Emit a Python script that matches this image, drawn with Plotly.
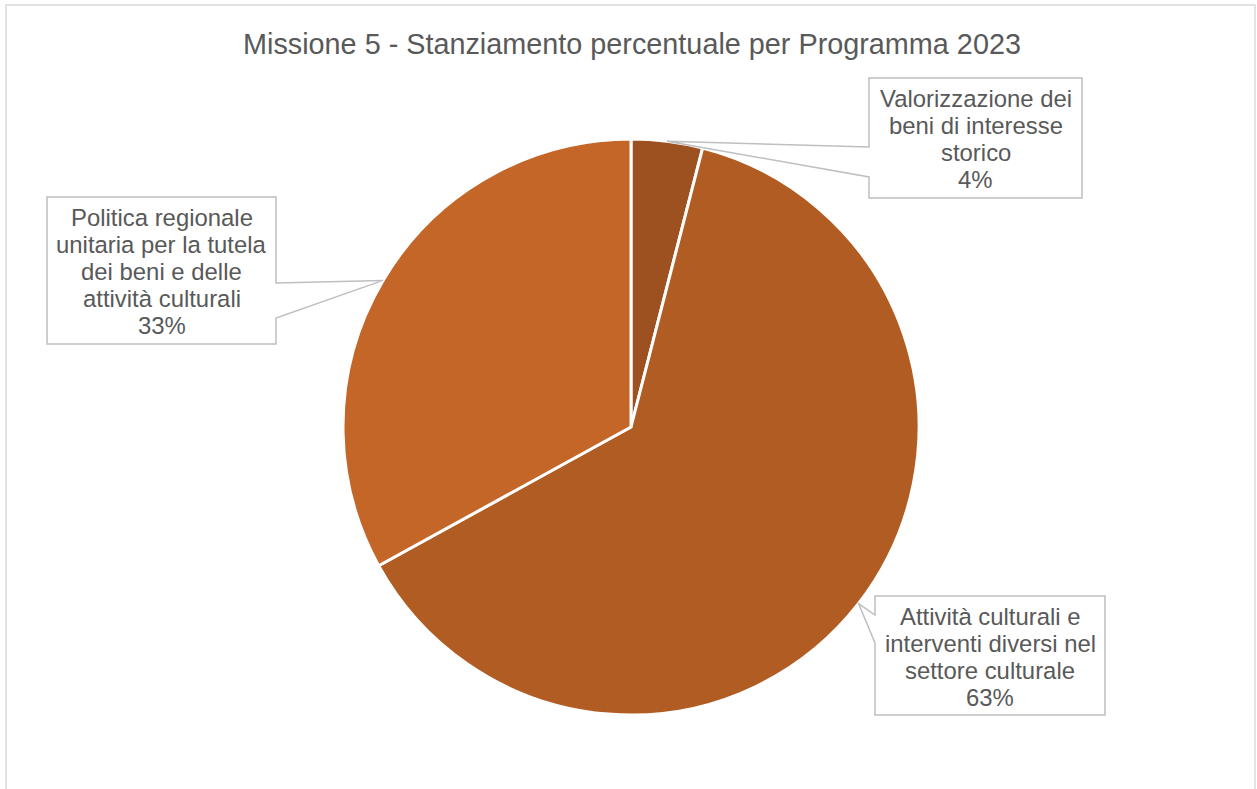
import math
import plotly.graph_objects as go

# Data
programmi = [
    "Valorizzazione dei beni di interesse storico",
    "Attività culturali e interventi diversi nel settore culturale",
    "Politica regionale unitaria per la tutela dei beni e delle attività culturali",
]
quote = [4, 63, 33]
colori = ["#9E5120", "#B15C22", "#C46628"]
etichette = [
    ["Valorizzazione dei", "beni di interesse", "storico"],
    ["Attività culturali e", "interventi diversi nel", "settore culturale"],
    ["Politica regionale", "unitaria per la tutela", "dei beni e delle", "attività culturali"],
]
titolo = "Missione 5 - Stanziamento percentuale per Programma 2023"

# Page geometry (pixels)
W, H = 1257, 789
CX, CY, R = 631, 427, 288
TEXT = "#595959"
BORDER = "#BFBFBF"
FONT = "Liberation Sans, Arial, sans-serif"
FS = 23.9
LINE = 27

# callout boxes: x0, x1, y0, y1 and the two attach points on the side facing the pie
boxes = [
    dict(x0=869, x1=1082, y0=78, y1=198, side="left", a=(147, 177)),
    dict(x0=875, x1=1105, y0=596, y1=715, side="left", a=(615, 643)),
    dict(x0=47, x1=276, y0=197, y1=344, side="right", a=(283, 318)),
]


def px(x):
    return x / W


def py(y):
    return 1 - y / H


fig = go.Figure()
fig.add_trace(go.Pie(
    labels=programmi,
    values=quote,
    sort=False,
    direction="clockwise",
    rotation=0,
    marker=dict(colors=colori, line=dict(color="white", width=3)),
    textinfo="none",
    hoverinfo="label+percent",
    domain=dict(x=[px(CX - R), px(CX + R)], y=[py(CY + R), py(CY - R)]),
    showlegend=False,
))

shapes = []
annotations = []

# outer chart frame
shapes.append(dict(type="path", xref="paper", yref="paper",
                   path=f"M {px(6)},{py(800)} L {px(6)},{py(5)} L {px(1255)},{py(5)} L {px(1255)},{py(800)}",
                   line=dict(color="#D9D9D9", width=1.5), layer="below"))

total = sum(quote)
cum = 0
for i, v in enumerate(quote):
    mid = (cum + v / 2) / total * 2 * math.pi
    cum += v
    tx = CX + R * math.sin(mid)
    ty = CY - R * math.cos(mid)
    b = boxes[i]
    a0, a1 = b["a"]
    if b["side"] == "left":
        pts = [(b["x0"], b["y0"]), (b["x1"], b["y0"]), (b["x1"], b["y1"]), (b["x0"], b["y1"]),
               (b["x0"], a1), (tx, ty), (b["x0"], a0)]
    else:
        pts = [(b["x0"], b["y0"]), (b["x1"], b["y0"]), (b["x1"], a0), (tx, ty),
               (b["x1"], a1), (b["x1"], b["y1"]), (b["x0"], b["y1"])]
    path = "M " + " L ".join(f"{px(x)},{py(y)}" for x, y in pts) + " Z"
    shapes.append(dict(type="path", xref="paper", yref="paper", path=path,
                       fillcolor="white", line=dict(color=BORDER, width=1.5), layer="above"))
    lines = etichette[i] + [f"{round(v / total * 100)}%"]
    bx = (b["x0"] + b["x1"]) / 2
    by = (b["y0"] + b["y1"]) / 2
    n = len(lines)
    for k, t in enumerate(lines):
        ly = by + (k - (n - 1) / 2) * LINE
        annotations.append(dict(x=px(bx), y=py(ly + 1), xref="paper", yref="paper",
                                text=t, showarrow=False, xanchor="center", yanchor="middle",
                                font=dict(family=FONT, size=FS, color=TEXT)))

annotations.append(dict(x=px(631.5), y=py(44), xref="paper", yref="paper", text=titolo,
                        showarrow=False, xanchor="center", yanchor="middle",
                        font=dict(family=FONT, size=28.8, color=TEXT)))

fig.update_layout(
    width=W, height=H,
    margin=dict(l=0, r=0, t=0, b=0),
    paper_bgcolor="white",
    plot_bgcolor="white",
    shapes=shapes,
    annotations=annotations,
)

fig.write_html("out.html")
